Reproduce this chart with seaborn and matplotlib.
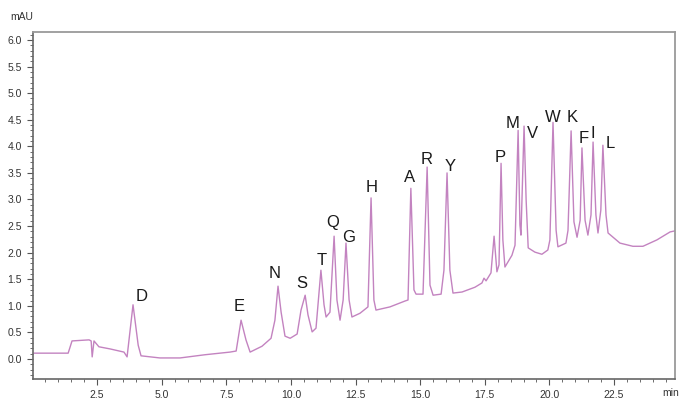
import numpy as np
import pandas as pd
import matplotlib
matplotlib.use("Agg")
import matplotlib.pyplot as plt
from matplotlib.ticker import MultipleLocator
import seaborn as sns

# Chromatogram trace: retention time (min) and absorbance (mAU)
time_min = [
    0.05, 1.38, 1.53, 2.19, 2.27, 2.31, 2.38, 2.57, 3.00, 3.54,
    3.66, 3.89, 4.09, 4.20, 4.93, 5.71, 6.67, 7.64, 7.88, 8.07,
    8.26, 8.42, 8.88, 9.23, 9.38, 9.50, 9.62, 9.77, 9.97, 10.24,
    10.39, 10.55, 10.66, 10.82, 10.97, 11.16, 11.28, 11.36, 11.51, 11.67,
    11.78, 11.90, 12.02, 12.13, 12.25, 12.36, 12.67, 12.98, 13.10, 13.21,
    13.29, 13.83, 14.41, 14.53, 14.64, 14.76, 14.84, 15.11, 15.27, 15.38,
    15.50, 15.81, 15.92, 16.04, 16.15, 16.27, 16.62, 17.12, 17.39, 17.47,
    17.55, 17.74, 17.86, 17.97, 18.05, 18.13, 18.20, 18.28, 18.55, 18.67,
    18.79, 18.86, 18.90, 19.02, 19.10, 19.18, 19.44, 19.71, 19.94, 20.02,
    20.14, 20.26, 20.33, 20.64, 20.72, 20.84, 20.95, 21.07, 21.19, 21.26,
    21.38, 21.49, 21.61, 21.69, 21.80, 21.88, 21.99, 22.07, 22.19, 22.27,
    22.73, 23.23, 23.62, 24.16, 24.67, 24.86,
]
signal_mau = [
    0.11, 0.11, 0.34, 0.36, 0.34, 0.04, 0.34, 0.23, 0.19, 0.13,
    0.04, 1.02, 0.26, 0.06, 0.02, 0.02, 0.08, 0.13, 0.15, 0.73,
    0.36, 0.13, 0.24, 0.39, 0.73, 1.37, 0.88, 0.43, 0.39, 0.47,
    0.92, 1.20, 0.83, 0.51, 0.58, 1.67, 1.02, 0.79, 0.88, 2.31,
    1.11, 0.73, 1.11, 2.18, 1.11, 0.79, 0.86, 0.98, 3.03, 1.11,
    0.92, 0.98, 1.09, 1.11, 3.21, 1.30, 1.22, 1.22, 3.61, 1.39,
    1.20, 1.22, 1.67, 3.50, 1.67, 1.24, 1.26, 1.35, 1.43, 1.52,
    1.47, 1.62, 2.31, 1.64, 1.77, 3.68, 2.24, 1.73, 1.95, 2.14,
    4.30, 2.52, 2.33, 4.38, 2.99, 2.09, 2.01, 1.97, 2.05, 2.24,
    4.45, 2.42, 2.11, 2.18, 2.42, 4.29, 2.58, 2.29, 2.61, 3.97,
    2.61, 2.33, 2.71, 4.08, 2.71, 2.37, 2.80, 4.02, 2.71, 2.37,
    2.18, 2.12, 2.12, 2.24, 2.39, 2.41,
]

# Amino acid peak assignments (one-letter code at each peak's retention time)
peak_names = ["D", "E", "N", "S", "T", "Q", "G", "H", "A", "R", "Y",
              "P", "M", "V", "W", "K", "F", "I", "L"]
peak_times = [3.89, 8.07, 9.50, 10.55, 11.16, 11.67, 12.13, 13.10, 14.64,
              15.27, 16.04, 18.13, 18.79, 19.02, 20.14, 20.84, 21.26,
              21.69, 22.07]

x_ticks = [2.5, 5.0, 7.5, 10.0, 12.5, 15.0, 17.5, 20.0, 22.5]
y_ticks = [0.0, 0.5, 1.0, 1.5, 2.0, 2.5, 3.0, 3.5, 4.0, 4.5, 5.0, 5.5, 6.0]

# Label placement relative to each apex, in pixels (dx, dy)
label_offsets = {
    "D": (9, 8), "E": (-2, 14), "N": (-3, 13), "S": (-3, 12), "T": (1, 10),
    "Q": (-1, 14), "G": (3, 6), "H": (1, 10), "A": (-1, 11), "R": (-1, 8),
    "Y": (3, 6), "P": (-1, 6), "M": (-6, 7), "V": (8, -7), "W": (0, 5),
    "K": (1, 13), "F": (2, 9), "I": (0, 9), "L": (7, 2),
}

trace = pd.DataFrame({"time": time_min, "signal": signal_mau})

sns.set_style("ticks")
plt.rcParams["font.family"] = ["Liberation Sans", "DejaVu Sans"]

fig = plt.figure(figsize=(6.81, 3.99), dpi=100)
ax = fig.add_axes([33 / 681, 1 - 379 / 399, (675 - 33) / 681, (379 - 32) / 399])

line_color = "#c383c0"
sns.lineplot(data=trace, x="time", y="signal", ax=ax, color=line_color,
             linewidth=1.0, sort=False, estimator=None)

# Peak letters above their apexes
for name, t in zip(peak_names, peak_times):
    idx = time_min.index(t)
    dx, dy = label_offsets[name]
    ax.annotate(name, xy=(t, signal_mau[idx]), xytext=(dx, dy),
                textcoords="offset pixels", ha="center", va="center",
                fontsize=12, color="#1a1a1a")

ax.set_xlim(0.02, 24.86)
ax.set_ylim(-0.376, 6.15)
ax.set_xticks(x_ticks)
ax.set_xticklabels([f"{v:.1f}" for v in x_ticks])
ax.set_yticks(y_ticks)
ax.set_yticklabels([f"{v:.1f}" for v in y_ticks])
ax.xaxis.set_minor_locator(MultipleLocator(0.5))
ax.yaxis.set_minor_locator(MultipleLocator(0.1))
ax.tick_params(axis="both", which="major", length=4, width=0.8,
               color="#555555", labelsize=7.5, labelcolor="#333333", pad=4)
ax.tick_params(axis="both", which="minor", length=2, width=0.6, color="#555555")
ax.set_xlabel("")
ax.set_ylabel("")

for side in ["top", "right"]:
    ax.spines[side].set_visible(True)
    ax.spines[side].set_color("#9a9a9a")
    ax.spines[side].set_linewidth(1.3)
for side in ["left", "bottom"]:
    ax.spines[side].set_color("#666666")
    ax.spines[side].set_linewidth(1.2)

fig.text(22 / 681, 1 - 17 / 399, "mAU", ha="center", va="center",
         fontsize=7.5, color="#333333")
fig.text(679 / 681, 1 - 393 / 399, "min", ha="right", va="center",
         fontsize=7.5, color="#333333")

fig.savefig("out.png", dpi=100)
